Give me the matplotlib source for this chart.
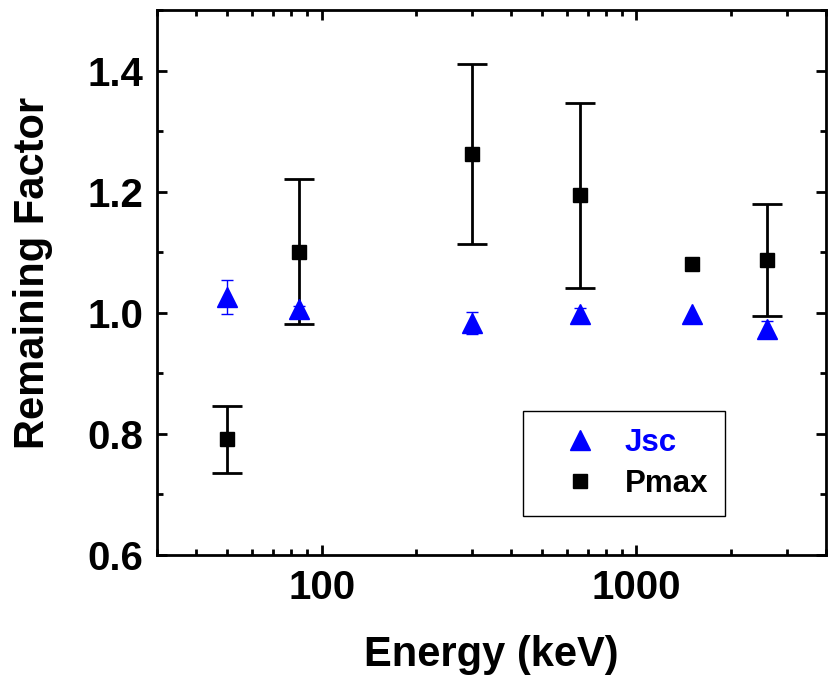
import numpy as np
import matplotlib
matplotlib.use("Agg")
import matplotlib.pyplot as plt

plt.rcParams['font.family'] = ['Liberation Sans', 'DejaVu Sans']
plt.rcParams['font.weight'] = 'bold'

# data
energy = [50, 85, 300, 660, 1500, 2600]
jsc = [1.026, 1.006, 0.983, 0.998, 0.998, 0.974]
jsc_err = [0.028, 0.005, 0.018, 0.010, 0.0, 0.012]
pmax = [0.791, 1.101, 1.262, 1.194, 1.081, 1.087]
pmax_err = [0.055, 0.120, 0.149, 0.153, 0.0, 0.093]

x = np.array(energy)
fig = plt.figure(figsize=(8.33, 6.85), dpi=100)
ax = fig.add_axes([157 / 833, 130 / 685, 669 / 833, 545 / 685])

# error bars only where an error exists
m = np.array(pmax_err) > 0
ax.errorbar(x[m], np.array(pmax)[m], yerr=np.array(pmax_err)[m], fmt='none',
            ecolor='black', elinewidth=2, capsize=11, capthick=2, zorder=2)
m = np.array(jsc_err) > 0
ax.errorbar(x[m], np.array(jsc)[m], yerr=np.array(jsc_err)[m], fmt='none',
            ecolor='blue', elinewidth=1, capsize=4, capthick=1, zorder=2)

ax.plot(x, jsc, linestyle='none', marker='^', color='blue', markersize=14,
        label='Jsc', zorder=3)
ax.plot(x, pmax, linestyle='none', marker='s', color='black', markersize=10.5,
        label='Pmax', zorder=3)

ax.set_xscale('log')
ax.set_xlim(30, 4000)
ax.set_ylim(0.6, 1.5)
ax.set_yticks([0.6, 0.8, 1.0, 1.2, 1.4])
ax.set_yticks([0.7, 0.9, 1.1, 1.3, 1.5], minor=True)
ax.set_yticklabels(['0.6', '0.8', '1.0', '1.2', '1.4'])
ax.set_xticks([100, 1000])
ax.set_xticklabels(['100', '1000'])

for s in ax.spines.values():
    s.set_linewidth(2)
ax.tick_params(which='major', direction='in', length=7, width=2,
               top=True, right=True, labelsize=29, pad=10)
ax.tick_params(which='minor', direction='in', length=4, width=2,
               top=True, right=True)

ax.set_xlabel('Energy (keV)', fontsize=30, fontweight='bold', labelpad=20)
ax.set_ylabel('Remaining Factor', fontsize=30, fontweight='bold', labelpad=20)
ax.yaxis.set_label_coords(-0.155, 0.518)

leg = ax.legend(loc='lower left', bbox_to_anchor=(0.547, 0.0716),
                borderaxespad=0, fancybox=False, framealpha=1,
                edgecolor='black', fontsize=22.5, borderpad=0.55,
                handlelength=2.55, handletextpad=0.15, labelspacing=0.35)
leg.get_frame().set_linewidth(1)
leg.get_texts()[0].set_color('blue')

fig.savefig('out.png', dpi=100)
